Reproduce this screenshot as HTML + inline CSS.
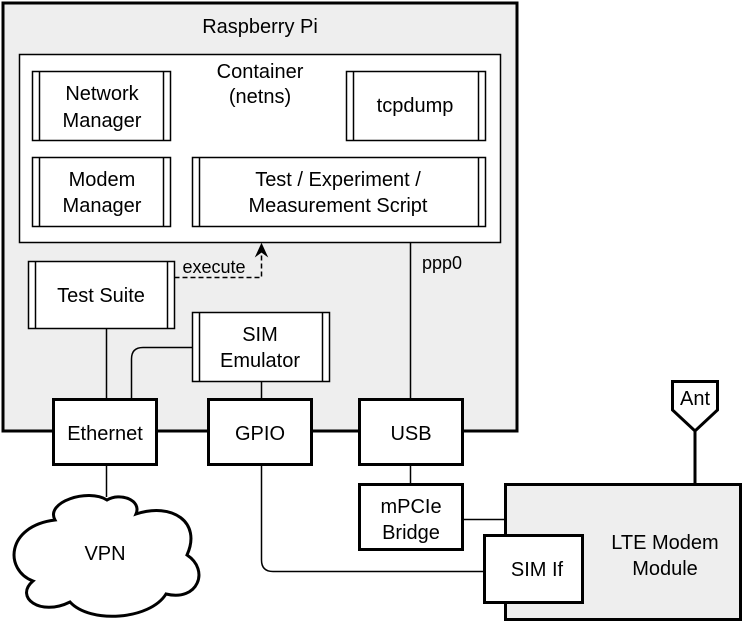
<!DOCTYPE html>
<html><head><meta charset="utf-8"><style>
html,body{margin:0;padding:0;background:#fff;}
svg{display:block;}
text{font-family:"Liberation Sans",Arial,sans-serif;font-size:20px;fill:#000;text-anchor:middle;}
</style></head><body>
<svg width="747" height="628" viewBox="0 0 747 628" xmlns="http://www.w3.org/2000/svg">
<rect x="3" y="3" width="514" height="428" fill="#eeeeee" stroke="#000" stroke-width="3"/>
<text x="260" y="33">Raspberry Pi</text>
<rect x="19.5" y="54.5" width="481" height="188" fill="#fff" stroke="#000" stroke-width="1.5"/>
<text x="260" y="78">Container</text>
<text x="260" y="103">(netns)</text>
<g fill="#fff" stroke="#000" stroke-width="1.5">
<rect x="32.5" y="71.5" width="138" height="69"/><line x1="39.5" y1="71.5" x2="39.5" y2="140.5"/><line x1="163.5" y1="71.5" x2="163.5" y2="140.5"/>
<rect x="346.5" y="71.5" width="139" height="69"/><line x1="353.5" y1="71.5" x2="353.5" y2="140.5"/><line x1="478.5" y1="71.5" x2="478.5" y2="140.5"/>
<rect x="32.5" y="157.5" width="138" height="69"/><line x1="39.5" y1="157.5" x2="39.5" y2="226.5"/><line x1="163.5" y1="157.5" x2="163.5" y2="226.5"/>
<rect x="192.5" y="157.5" width="293" height="69"/><line x1="199.5" y1="157.5" x2="199.5" y2="226.5"/><line x1="478.5" y1="157.5" x2="478.5" y2="226.5"/>
<rect x="28.5" y="261.5" width="146" height="67"/><line x1="35.5" y1="261.5" x2="35.5" y2="328.5"/><line x1="167.5" y1="261.5" x2="167.5" y2="328.5"/>
<rect x="192.5" y="312.5" width="137" height="69"/><line x1="199.5" y1="312.5" x2="199.5" y2="381.5"/><line x1="322.5" y1="312.5" x2="322.5" y2="381.5"/>
</g>
<text x="102" y="100">Network</text><text x="102" y="127">Manager</text>
<text x="415" y="112">tcpdump</text>
<text x="102" y="186">Modem</text><text x="102" y="212">Manager</text>
<text x="338" y="186">Test / Experiment /</text><text x="338" y="212">Measurement Script</text>
<text x="101" y="302">Test Suite</text>
<text x="260" y="341">SIM</text><text x="260" y="367">Emulator</text>
<path d="M174.5 277.5 H261.5 V250" fill="none" stroke="#000" stroke-width="1.5" stroke-dasharray="5,3"/>
<path d="M261.5 244 L256 256 L261.5 252 L267 256 Z" fill="#000" stroke="#000" stroke-width="1"/>
<text x="214" y="273" style="font-size:18px">execute</text>
<g fill="none" stroke="#000" stroke-width="1.5">
<line x1="410.5" y1="243" x2="410.5" y2="398"/>
<line x1="106.5" y1="328" x2="106.5" y2="398"/>
<path d="M192 347.5 H143 Q131.5 347.5 131.5 359 V398"/>
<line x1="261.5" y1="381" x2="261.5" y2="398"/>
<line x1="106.5" y1="465" x2="106.5" y2="497"/>
<path d="M261.5 465 V560 Q261.5 571.5 273 571.5 H484"/>
<line x1="410.5" y1="465" x2="410.5" y2="483"/>
<line x1="463" y1="519.5" x2="505" y2="519.5"/>
<line x1="695" y1="430" x2="695" y2="484" stroke-width="3"/>
</g>
<text x="442" y="269" style="font-size:18px">ppp0</text>
<g fill="#fff" stroke="#000" stroke-width="3">
<rect x="53.5" y="399.5" width="103" height="65"/>
<rect x="208.5" y="399.5" width="103" height="65"/>
<rect x="359.5" y="399.5" width="103" height="65"/>
<rect x="359.5" y="484.5" width="103" height="65"/>
</g>
<text x="105" y="440">Ethernet</text>
<text x="260" y="440">GPIO</text>
<text x="411" y="440">USB</text>
<text x="411" y="513">mPCIe</text><text x="411" y="539">Bridge</text>
<rect x="505.5" y="484.5" width="235" height="135" fill="#eeeeee" stroke="#000" stroke-width="3"/>
<text x="665" y="549">LTE Modem</text><text x="665" y="575">Module</text>
<rect x="484.5" y="535.5" width="98" height="67" fill="#fff" stroke="#000" stroke-width="3"/>
<text x="537" y="576">SIM If</text>
<path d="M672.5 381.5 H717.5 V410 L695 431 L672.5 410 Z" fill="#fff" stroke="#000" stroke-width="3"/>
<text x="695" y="405">Ant</text>
<path d="M55 520 C45 502, 88 488, 107 500 C120 492, 142 500, 136 514 C172 502, 202 522, 187 555 C210 570, 198 602, 166 594 C150 620, 90 624, 70 602 C40 617, 14 597, 33 581 C4 570, 6 526, 55 520 Z" fill="#fff" stroke="#000" stroke-width="3"/>
<text x="105" y="560">VPN</text>
</svg>
</body></html>
